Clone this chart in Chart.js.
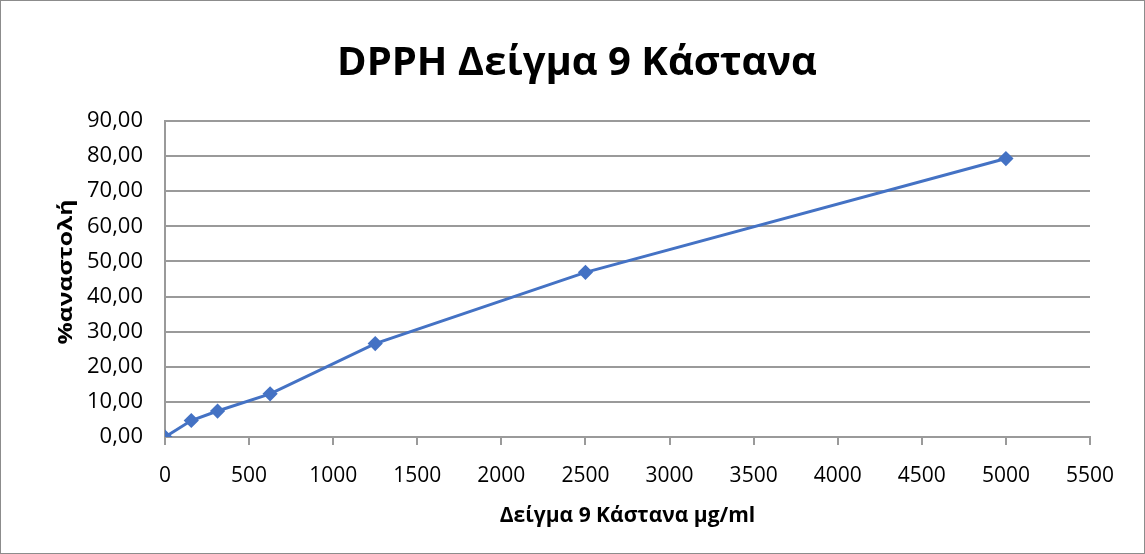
<!DOCTYPE html>
<html><head><meta charset="utf-8">
<script src="https://cdn.jsdelivr.net/npm/chart.js@4/dist/chart.umd.min.js"></script>
<style>html,body{margin:0;padding:0;background:#fff}#wrap{width:1145px;height:554px;position:relative}</style>
</head><body><div id="wrap"><canvas id="c" width="1145" height="554"></canvas></div>
<script>
const concentrations = [0, 156.25, 312.5, 625, 1250, 2500, 5000];
const inhibition = [0, 4.7, 7.4, 12.3, 26.6, 46.9, 79.3];
const chartTitle = "DPPH Δείγμα 9 Κάστανα";
const xTitle = "Δείγμα 9 Κάστανα μg/ml";
const yTitle = "%αναστολή";
const FONT = "'Open Sans', 'DejaVu Sans', sans-serif";

const deco = {
  id: 'deco',
  afterDraw(chart) {
    const ctx = chart.ctx, W = chart.width, H = chart.height, a = chart.chartArea;
    ctx.save();
    ctx.strokeStyle = '#8c8c8c'; ctx.lineWidth = 1;
    ctx.strokeRect(0.5, 0.5, W - 1, H - 1);
    ctx.fillStyle = '#000'; ctx.textAlign = 'center'; ctx.textBaseline = 'middle';
    ctx.font = "bold 40px " + FONT;
    ctx.fillText(chartTitle, 577, 64);
    ctx.font = "bold 21px " + FONT;
    ctx.fillText(xTitle, (a.left + a.right) / 2, 516);
    ctx.translate(67, 272);
    ctx.rotate(-Math.PI / 2);
    ctx.font = "bold 19px " + FONT;
    const w = ctx.measureText(yTitle).width;
    ctx.scale(145 / w, 1);
    ctx.fillText(yTitle, 0, 0);
    ctx.restore();
  }
};

new Chart(document.getElementById('c'), {
  type: 'scatter',
  data: { datasets: [{
    data: concentrations.map((x, i) => ({x, y: inhibition[i]})),
    showLine: true, borderColor: '#4472C4', backgroundColor: '#4472C4',
    borderWidth: 3, pointStyle: 'rectRot', pointRadius: 5.5, pointHoverRadius: 5.5, tension: 0
  }]},
  options: {
    responsive: false, animation: false,
    layout: { padding: { top: 121, right: 55, left: 0, bottom: 0 } },
    plugins: { legend: { display: false }, tooltip: { enabled: false } },
    scales: {
      x: {
        type: 'linear', min: 0, max: 5500,
        ticks: { stepSize: 500, color: '#000', font: { family: FONT, size: 21 }, padding: 18, maxRotation: 0, autoSkip: false,
          callback: v => String(v) },
        grid: { drawOnChartArea: false, drawTicks: true, tickLength: 8, color: '#9a9a9a', lineWidth: 2 },
        border: { color: '#9a9a9a', width: 2 },
        afterFit(s) { s.height = 117; }
      },
      y: {
        min: 0, max: 90,
        ticks: { stepSize: 10, color: '#000', font: { family: FONT, size: 22 }, padding: 22,
          callback: v => v.toFixed(2).replace('.', ',') },
        grid: { drawTicks: false, color: '#9a9a9a', lineWidth: 2 },
        border: { color: '#9a9a9a', width: 2 },
        afterFit(s) { s.width = 165; }
      }
    }
  },
  plugins: [deco]
});
</script></body></html>
